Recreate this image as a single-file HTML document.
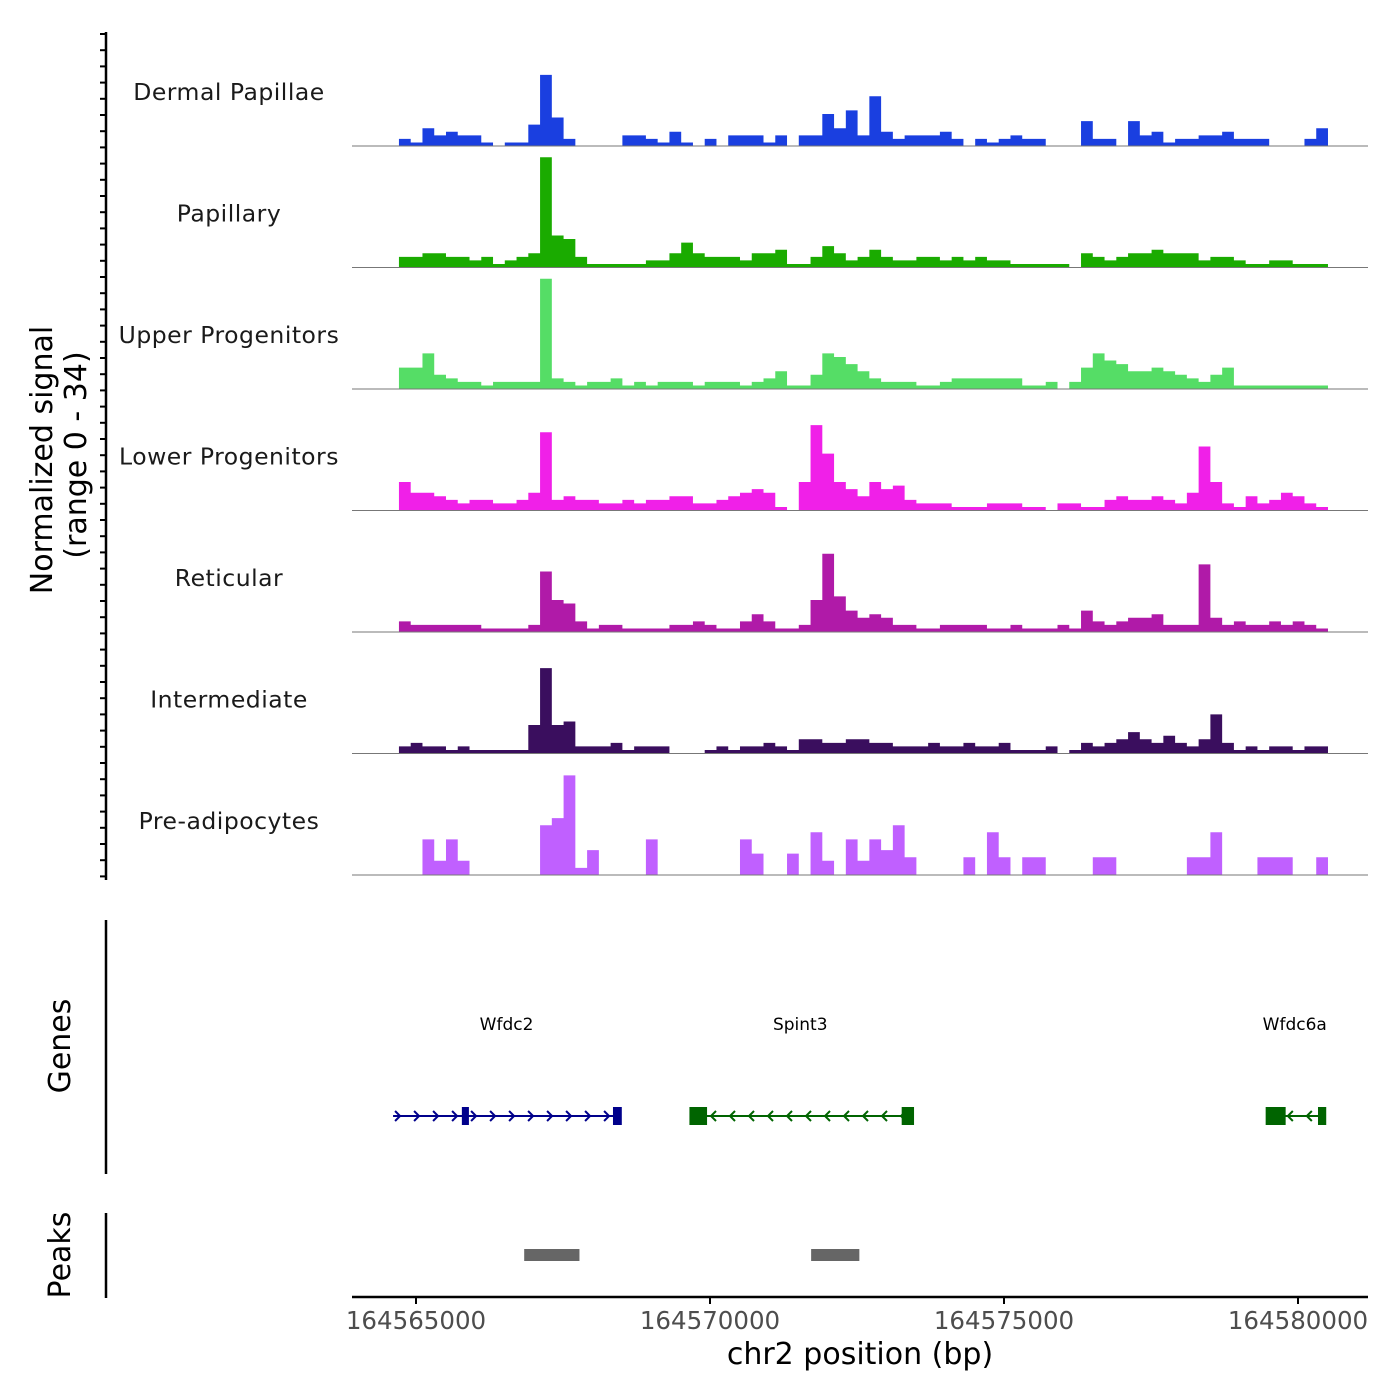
<!DOCTYPE html>
<html><head><meta charset="utf-8"><style>
html,body{margin:0;padding:0;background:#fff;}
svg{display:block;font-family:"DejaVu Sans","Liberation Sans",sans-serif;}
</style></head><body>
<svg id="chart" width="1400" height="1400" xmlns="http://www.w3.org/2000/svg"></svg>
<script>
const trackNames = ["Dermal Papillae","Papillary","Upper Progenitors","Lower Progenitors","Reticular","Intermediate","Pre-adipocytes"];
const trackColors = ["#1a3fe0","#1aab00","#55dd66","#f020e8","#b01aa8","#3a0e5e","#c060ff"];
const binStart = 164564710;
const binSize = 200;
const sDP = [2,1,5,3,4,3,3,1,0,1,1,6,20,8,2,0,0,0,0,3,3,2,1,4,1,0,2,0,3,3,3,1,3,0,3,3,9,5,10,3,14,4,2,3,3,3,4,2,0,2,1,2,3,2,2,0,0,0,7,2,2,0,7,3,4,1,2,2,3,3,4,2,2,2,0,0,0,2,5];
const sPap = [3,3,4,4,3,3,2,3,1,2,3,4,31,9,8,3,1,1,1,1,1,2,2,4,7,4,3,3,3,2,4,4,5,1,1,3,6,4,2,3,5,3,2,2,3,3,2,3,2,3,2,2,1,1,1,1,1,0,4,3,2,3,4,4,5,4,4,4,2,3,3,2,1,1,2,2,1,1,1];
const sUp = [6,6,10,4,3,2,2,1,2,2,2,2,31,3,2,1,2,2,3,1,2,1,2,2,2,1,2,2,2,1,2,3,5,1,1,4,10,9,7,5,3,2,2,2,1,1,2,3,3,3,3,3,3,1,1,2,0,2,6,10,8,7,5,5,6,5,4,3,2,4,6,1,1,1,1,1,1,1,1];
const sLow = [8,5,5,4,3,2,3,3,2,2,3,5,22,3,4,3,3,2,2,3,2,3,3,4,4,2,2,3,4,5,6,5,1,0,8,24,16,8,6,4,8,6,7,3,2,2,2,1,1,1,2,2,2,1,1,0,2,2,1,1,3,4,3,3,4,3,2,5,18,8,2,1,4,2,3,5,4,2,1];
const sRet = [3,2,2,2,2,2,2,1,1,1,1,2,17,9,8,3,1,2,2,1,1,1,1,2,2,3,2,1,1,3,5,3,1,1,2,9,22,10,6,4,5,4,2,2,1,1,2,2,2,2,1,1,2,1,1,1,2,1,6,3,2,3,4,4,5,2,2,2,19,4,2,3,2,2,3,2,3,2,1];
const sInt = [2,3,2,2,1,2,1,1,1,1,1,8,24,8,9,2,2,2,3,1,2,2,2,0,0,0,1,2,1,2,2,3,2,1,4,4,3,3,4,4,3,3,2,2,2,3,2,2,3,2,2,3,1,1,1,2,0,1,3,2,3,4,6,4,3,5,3,2,4,11,3,1,2,1,2,2,1,2,2];
const sPre = [0,0,10,4,10,4,0,0,0,0,0,0,14,16,28,2,7,0,0,0,0,10,0,0,0,0,0,0,0,10,6,0,0,6,0,12,4,0,10,4,10,7,14,5,0,0,0,0,5,0,12,5,0,5,5,0,0,0,0,5,5,0,0,0,0,0,0,5,5,12,0,0,0,5,5,5,0,0,5];
const trackSeries = [sDP,sPap,sUp,sLow,sRet,sInt,sPre];
const xTicks = [164565000,164570000,164575000,164580000];
const geneNames = ["Wfdc2","Spint3","Wfdc6a"];
const geneStarts = [164564610,164569660,164579470];
const geneEnds = [164568470,164573410,164580420];
const geneStrand = ["+","-","-"];
const geneExons = [[[164565780,164565900],[164568350,164568500]],[[164569650,164569950],[164573260,164573470]],[[164579450,164579790],[164580340,164580480]]];
const geneColors = ["#00008b","#006400","#006400"];
const peakStarts = [164566840,164571720];
const peakEnds = [164567780,164572540];

const NS="http://www.w3.org/2000/svg";
const svg=document.getElementById('chart');
function el(tag,attrs,parent){const e=document.createElementNS(NS,tag);for(const k in attrs)e.setAttribute(k,attrs[k]);(parent||svg).appendChild(e);return e;}
const X0=352,X1=1368;
function xs(bp){return 416+(bp-164565000)*294/5000;}
const yMax=34, trackH=121.5, firstBase=146;
function ys(v,t){const base=firstBase+t*trackH;return base-v*(108/yMax)*1.12;}

const ax=el('line',{x1:106,y1:32,x2:106,y2:880,stroke:'#000','stroke-width':2.5});

for(let y=34;y<=878;y+=16.2){const t=el('line',{x1:100,y1:y,x2:106,y2:y,stroke:'#000','stroke-width':2});}
const yt=el('text',{transform:'translate(52,460) rotate(-90)','text-anchor':'middle','font-size':30,fill:'#000'});

yt.textContent='Normalized signal';
const yt2=el('text',{transform:'translate(86,455) rotate(-90)','text-anchor':'middle','font-size':30,fill:'#000'});

yt2.textContent='(range 0 - 34)';

trackNames.forEach((name,t)=>{
  const base=firstBase+t*trackH;
  const g=el('g',{});
  
  
  const vals=trackSeries[t];
  let d='M'+xs(binStart)+','+base;
  vals.forEach((v,i)=>{const xa=xs(binStart+i*binSize),xb=xs(binStart+(i+1)*binSize);const y=ys(v,t);d+=' L'+xa+','+y+' L'+xb+','+y;});
  d+=' L'+xs(binStart+vals.length*binSize)+','+base+' Z';
  const p=el('path',{d:d,fill:trackColors[t],stroke:'none'},g);
  
  const bl=el('line',{x1:X0,y1:base,x2:X1,y2:base,stroke:'#777','stroke-width':1},g);
  
  const lab=el('text',{x:229,y:base-46,'text-anchor':'middle','font-size':23.5,fill:'#1a1a1a','letter-spacing':'0.5'},g);
  
  lab.textContent=name;
});

const ga=el('line',{x1:106,y1:920,x2:106,y2:1174,stroke:'#000','stroke-width':2.5});

const gt=el('text',{transform:'translate(70,1046) rotate(-90)','text-anchor':'middle','font-size':30,fill:'#000'});
gt.textContent='Genes';
geneNames.forEach((n,i)=>{
  const g=el('g',{});
  
  const c=geneColors[i],a=xs(geneStarts[i]),b=xs(geneEnds[i]),y=1116;
  el('line',{x1:a,y1:y,x2:b,y2:y,stroke:c,'stroke-width':2},g);
  for(let x=a+2;x<b-6;x+=19){
    const dpath=geneStrand[i]==='+'?`M${x},${y-5} L${x+5},${y} L${x},${y+5}`:`M${x+5},${y-5} L${x},${y} L${x+5},${y+5}`;
    const ar=el('path',{d:dpath,fill:'none',stroke:c,'stroke-width':2},g);
    
  }
  geneExons[i].forEach(e=>{const r=el('rect',{x:xs(e[0]),y:y-9,width:xs(e[1])-xs(e[0]),height:18,fill:c},g);});
  const lt=el('text',{x:(a+b)/2,y:1030,'text-anchor':'middle','font-size':17,fill:'#000'},g);
  lt.textContent=n;
});

const pa=el('line',{x1:106,y1:1213,x2:106,y2:1298,stroke:'#000','stroke-width':2.5});

const pt=el('text',{transform:'translate(70,1255) rotate(-90)','text-anchor':'middle','font-size':30,fill:'#000'});
pt.textContent='Peaks';
peakStarts.forEach((s,i)=>{const r=el('rect',{x:xs(s),y:1249,width:xs(peakEnds[i])-xs(s),height:12,fill:'#666'});});

const xa=el('line',{x1:X0,y1:1297,x2:X1,y2:1297,stroke:'#000','stroke-width':2.5});

xTicks.forEach(v=>{
  const t=el('line',{x1:xs(v),y1:1297,x2:xs(v),y2:1304,stroke:'#000','stroke-width':2});
  
  const l=el('text',{x:xs(v),y:1329,'text-anchor':'middle','font-size':24.5,fill:'#4d4d4d'});
  l.textContent=String(v);
});
const xt=el('text',{x:860,y:1364,'text-anchor':'middle','font-size':30,fill:'#000'});
xt.textContent='chr2 position (bp)';
</script>
</body></html>
